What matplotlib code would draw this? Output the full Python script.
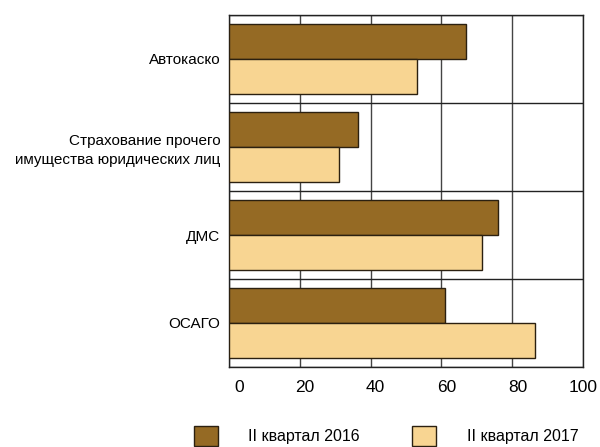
import matplotlib
matplotlib.use("Agg")
import matplotlib.pyplot as plt
import matplotlib.transforms as mtransforms
from matplotlib.patches import Patch
import numpy as np

plt.rcParams['font.family'] = ['Liberation Sans', 'DejaVu Sans']

categories = ["Автокаско", "Страхование прочего\nимущества юридических лиц", "ДМС", "ОСАГО"]
series_names = ["II квартал 2016", "II квартал 2017"]
values_2016 = [67, 36.5, 76, 61]
values_2017 = [53.2, 31.2, 71.3, 86.5]
xticks = [0, 20, 40, 60, 80, 100]

col16 = "#956A24"
col17 = "#F8D592"
edge = "#2b2010"

fig = plt.figure(figsize=(6, 4.47), dpi=100)
ax = fig.add_axes([228.7/600, 1-367/447, (583.3-228.7)/600, (367-15)/447])

y = np.arange(len(categories))
h = 0.4
ax.barh(y - h/2, values_2016, height=h, color=col16, edgecolor=edge, linewidth=1, zorder=3)
ax.barh(y + h/2, values_2017, height=h, color=col17, edgecolor=edge, linewidth=1, zorder=3)

ax.set_xlim(0, 100)
ax.set_ylim(len(categories) - 0.5, -0.5)
ax.set_xticks(xticks)
ax.set_xticklabels([str(t) for t in xticks], fontsize=12.5)
ax.set_yticks(y)
ax.set_yticklabels(categories, fontsize=11, linespacing=1.4)
ax.set_yticks(np.arange(len(categories) + 1) - 0.5, minor=True)
ax.tick_params(axis='y', which='both', length=0, pad=6)
ax.tick_params(axis='x', length=0, pad=9)
ax.grid(axis='x', which='major', color='#444444', linewidth=1, zorder=1)
ax.grid(axis='y', which='minor', color='#222222', linewidth=1, zorder=1)
for s in ax.spines.values():
    s.set_color('#222222')
    s.set_linewidth(1)

labels = ax.get_xticklabels()
for i, lab in enumerate(labels):
    off = 10 if i == 0 else (0 if i == len(labels) - 1 else 5)
    lab.set_transform(lab.get_transform() + mtransforms.ScaledTranslation(off/100, 0, fig.dpi_scale_trans))

handles = [Patch(facecolor=col16, edgecolor=edge, linewidth=1),
           Patch(facecolor=col17, edgecolor=edge, linewidth=1)]
fig.legend(handles, series_names, loc='center', bbox_to_anchor=(386/600, 1-436/447),
           ncol=2, frameon=False, fontsize=11.5, handlelength=1.5, handleheight=1.5,
           handletextpad=1.9, columnspacing=3.3, borderaxespad=0, borderpad=0)

fig.savefig("out.png", dpi=100)
